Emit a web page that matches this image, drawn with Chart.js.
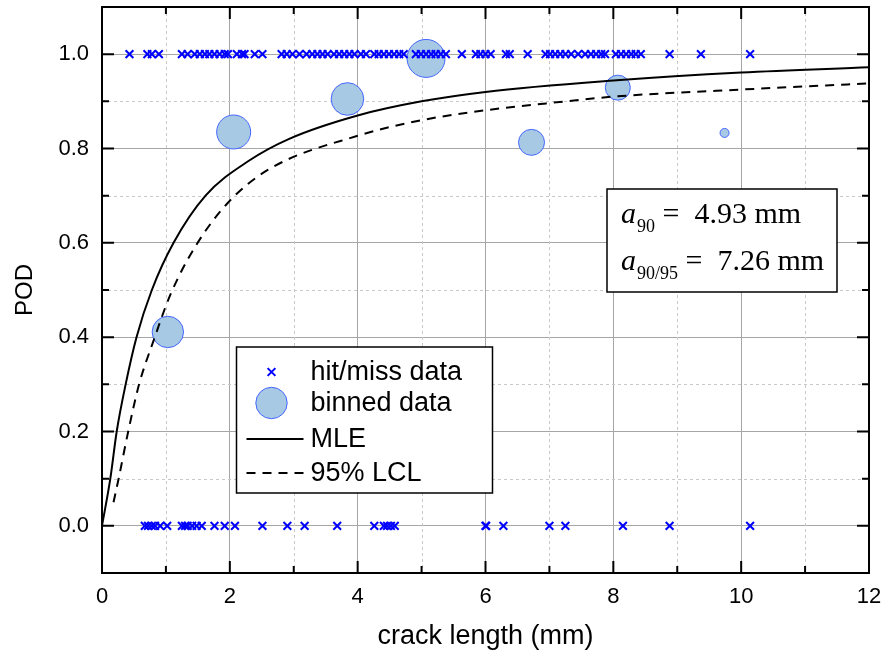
<!DOCTYPE html>
<html>
<head>
<meta charset="utf-8">
<script src="https://cdn.jsdelivr.net/npm/chart.js@4.4.1/dist/chart.umd.min.js"></script>
<style>
  html, body { margin: 0; padding: 0; background: #ffffff; }
  #wrap { width: 889px; height: 663px; }
</style>
</head>
<body>
<div id="wrap"><canvas id="c" width="889" height="663"></canvas></div>
<script>
// ---------------- data ----------------
// hit/miss data: crack lengths (mm) of detected cracks (POD = 1)
const hitX = [0.43, 0.71, 0.78, 0.89, 1.25, 1.34, 1.45, 1.53, 1.61, 1.68, 1.76, 1.84, 1.92, 1.97,
  2.11, 2.19, 2.23, 2.39, 2.51, 2.81, 2.89, 2.98, 3.09, 3.20, 3.29, 3.37, 3.45, 3.53,
  3.63, 3.71, 3.79, 3.87, 3.95, 4.05, 4.13, 4.26, 4.33, 4.41, 4.49, 4.57, 4.65, 4.72,
  4.91, 4.99, 5.07, 5.15, 5.22, 5.30, 5.38, 5.63, 5.85, 5.92, 6.00, 6.08, 6.32, 6.38,
  6.66, 6.94, 7.01, 7.09, 7.17, 7.25, 7.34, 7.45, 7.56, 7.65, 7.73, 7.81, 7.87,
  8.04, 8.12, 8.20, 8.28, 8.35, 8.43, 8.88, 9.37, 10.14];
// crack lengths (mm) of missed cracks (POD = 0)
const missX = [0.67, 0.72, 0.78, 0.83, 0.91, 1.02, 1.25, 1.30, 1.34, 1.41, 1.48, 1.56,
  1.76, 1.92, 2.08, 2.51, 2.90, 3.17, 3.68, 4.26, 4.41, 4.46, 4.52, 4.58,
  6.00, 6.01, 6.28, 7.00, 7.25, 8.15, 8.88, 10.14];
const hitValue = 1.0;
const missValue = 0.0;

// binned data
const binX   = [1.03, 2.06, 3.84, 5.07, 6.72, 8.07, 9.74];
const binPOD = [0.411, 0.835, 0.905, 0.991, 0.813, 0.929, 0.833];
const binSize = [15.7, 17, 16.3, 19, 13, 12.5, 4.5];   // bubble radius (bin weight)

// MLE curve
const mleX   = [0, 0.13, 0.23, 0.37, 0.54, 0.78, 1.12, 1.62, 2.31, 2.92, 4.0, 5.0, 6.0, 8.0, 10.0, 12.0];
const mlePOD = [0, 0.10, 0.20, 0.30, 0.40, 0.50, 0.60, 0.70, 0.775, 0.82, 0.87, 0.90, 0.92, 0.944, 0.961, 0.972];

// 95% lower confidence limit
const lclX   = [0.18, 0.26, 0.41, 0.58, 0.80, 1.07, 1.45, 1.97, 2.60, 4.0, 5.0, 6.0, 7.26, 8.0, 10.0, 12.0];
const lclPOD = [0.05, 0.10, 0.20, 0.30, 0.39, 0.49, 0.59, 0.685, 0.755, 0.827, 0.86, 0.881, 0.90, 0.91, 0.925, 0.938];

// axes / ticks
const xMin = 0, xMax = 12, yMin = -0.1, yMax = 1.1;
const xMajor = [0, 2, 4, 6, 8, 10, 12];
const xMinor = [1, 3, 5, 7, 9, 11];
const yMajor = [0.0, 0.2, 0.4, 0.6, 0.8, 1.0];
const yMinor = [0.1, 0.3, 0.5, 0.7, 0.9];

// texts
const xTitle = 'crack length (mm)';
const yTitle = 'POD';
const labels = ['hit/miss data', 'binned data', 'MLE', '95% LCL'];
const noteRows = [
  { sub: '90', value: '4.93 mm' },
  { sub: '90/95', value: '7.26 mm' }
];

// ---------------- styles ----------------
const SANS = '"Liberation Sans", Arial, Helvetica, sans-serif';
const SERIF = '"Liberation Serif", "Times New Roman", Times, serif';
const BLUE = '#0000ff';
const BUB_FILL = '#a8c9e4';
const BUB_EDGE = '#4466ff';

const pts = (xs, ys) => xs.map((x, i) => ({ x: x, y: Array.isArray(ys) ? ys[i] : ys }));

const hitMiss = pts(hitX, hitValue).concat(pts(missX, missValue));
const bubbles = binX.map((x, i) => ({ x: x, y: binPOD[i], r: binSize[i] }));

// ---------------- custom drawing ----------------
function drawCross(ctx, x, y, r) {
  const o = r * Math.SQRT1_2;
  ctx.beginPath();
  ctx.moveTo(x - o, y - o); ctx.lineTo(x + o, y + o);
  ctx.moveTo(x - o, y + o); ctx.lineTo(x + o, y - o);
  ctx.stroke();
}

const framePlugin = {
  id: 'frame',
  beforeDatasetsDraw(chart) {
    const { ctx, chartArea: ca, scales: { x, y } } = chart;
    ctx.save();
    ctx.strokeStyle = '#c9c9c9';
    ctx.lineWidth = 1;
    ctx.setLineDash([3, 3]);
    xMinor.forEach(v => {
      const px = Math.round(x.getPixelForValue(v)) + 0.5;
      ctx.beginPath(); ctx.moveTo(px, ca.top); ctx.lineTo(px, ca.bottom); ctx.stroke();
    });
    yMinor.forEach(v => {
      const py = Math.round(y.getPixelForValue(v)) + 0.5;
      ctx.beginPath(); ctx.moveTo(ca.left, py); ctx.lineTo(ca.right, py); ctx.stroke();
    });
    ctx.restore();
  },
  afterDatasetsDraw(chart) {
    const { ctx, chartArea: ca, scales: { x, y } } = chart;
    ctx.save();
    // frame
    ctx.strokeStyle = '#000';
    ctx.lineWidth = 2;
    ctx.strokeRect(ca.left, ca.top, ca.right - ca.left, ca.bottom - ca.top);
    // inward ticks on all sides
    const tick = (vals, len, horiz) => {
      vals.forEach(v => {
        ctx.beginPath();
        if (horiz) {
          const px = x.getPixelForValue(v);
          ctx.moveTo(px, ca.bottom); ctx.lineTo(px, ca.bottom - len);
          ctx.moveTo(px, ca.top); ctx.lineTo(px, ca.top + len);
        } else {
          const py = y.getPixelForValue(v);
          ctx.moveTo(ca.left, py); ctx.lineTo(ca.left + len, py);
          ctx.moveTo(ca.right, py); ctx.lineTo(ca.right - len, py);
        }
        ctx.stroke();
      });
    };
    tick(xMajor, 12, true); tick(xMinor, 7, true);
    tick(yMajor, 12, false); tick(yMinor, 7, false);

    // legend box
    const ds = chart.data.datasets;
    const L = { x: ca.left + 134.5, y: ca.top + 340, w: 256, h: 146 };
    ctx.fillStyle = '#fff';
    ctx.fillRect(L.x, L.y, L.w, L.h);
    ctx.lineWidth = 1.5;
    ctx.strokeStyle = '#000';
    ctx.strokeRect(L.x, L.y, L.w, L.h);
    const rowY = [25, 56, 92, 126].map(d => L.y + d);
    const symX = L.x + 35;
    // hit/miss symbol
    ctx.strokeStyle = BLUE; ctx.lineWidth = 2;
    drawCross(ctx, symX, rowY[0], 5.5);
    // binned symbol
    ctx.beginPath(); ctx.arc(symX, rowY[1], 15.7, 0, Math.PI * 2);
    ctx.fillStyle = BUB_FILL; ctx.fill();
    ctx.lineWidth = 1; ctx.strokeStyle = BUB_EDGE; ctx.stroke();
    // MLE
    ctx.strokeStyle = '#000'; ctx.lineWidth = 2;
    ctx.beginPath(); ctx.moveTo(L.x + 10, rowY[2]); ctx.lineTo(L.x + 67, rowY[2]); ctx.stroke();
    // LCL
    ctx.setLineDash([9, 7]);
    ctx.beginPath(); ctx.moveTo(L.x + 10, rowY[3]); ctx.lineTo(L.x + 67, rowY[3]); ctx.stroke();
    ctx.setLineDash([]);
    ctx.fillStyle = '#000';
    ctx.font = '27px ' + SANS;
    ctx.textBaseline = 'middle';
    ctx.textAlign = 'left';
    const legendOrder = [1, 0, 2, 3];
    legendOrder.forEach((di, i) => ctx.fillText(ds[di].label, L.x + 74, rowY[i] + 1));

    // annotation box
    const N = { x: ca.left + 505, y: ca.top + 182, w: 230, h: 103 };
    ctx.fillStyle = '#fff';
    ctx.fillRect(N.x, N.y, N.w, N.h);
    ctx.lineWidth = 1.5; ctx.strokeStyle = '#000';
    ctx.strokeRect(N.x, N.y, N.w, N.h);
    ctx.fillStyle = '#000';
    ctx.textBaseline = 'alphabetic';
    const base = [N.y + 34, N.y + 81];
    noteRows.forEach((r, i) => {
      let cx = N.x + 14;
      ctx.font = 'italic 30px ' + SERIF;
      ctx.fillText('a', cx, base[i]);
      cx += ctx.measureText('a').width + 1;
      ctx.font = '18px ' + SERIF;
      ctx.fillText(r.sub, cx, base[i] + 9);
      cx += ctx.measureText(r.sub).width;
      ctx.font = '30px ' + SERIF;
      ctx.fillText(' =  ' + r.value, cx, base[i]);
    });
    ctx.restore();
  }
};

// ---------------- chart ----------------
new Chart(document.getElementById('c'), {
  type: 'scatter',
  data: {
    datasets: [
      {
        type: 'bubble',
        label: labels[1],
        data: bubbles,
        backgroundColor: BUB_FILL,
        borderColor: BUB_EDGE,
        borderWidth: 1,
        order: 4
      },
      {
        type: 'scatter',
        label: labels[0],
        data: hitMiss,
        pointStyle: 'crossRot',
        pointRadius: 5.5,
        borderColor: BLUE,
        backgroundColor: BLUE,
        pointBorderWidth: 2,
        order: 3
      },
      {
        type: 'scatter',
        label: labels[2],
        data: pts(mleX, mlePOD),
        showLine: true,
        borderColor: '#000',
        borderWidth: 2,
        pointRadius: 0,
        cubicInterpolationMode: 'monotone',
        order: 1
      },
      {
        type: 'scatter',
        label: labels[3],
        data: pts(lclX, lclPOD),
        showLine: true,
        borderColor: '#000',
        borderWidth: 2,
        borderDash: [9, 7],
        pointRadius: 0,
        cubicInterpolationMode: 'monotone',
        order: 2
      }
    ]
  },
  options: {
    responsive: false,
    animation: false,
    devicePixelRatio: 1,
    layout: { autoPadding: false, padding: { top: 7, right: 20, left: 0, bottom: 0 } },
    plugins: {
      legend: { display: false },
      tooltip: { enabled: false }
    },
    scales: {
      x: {
        type: 'linear',
        min: xMin, max: xMax,
        afterBuildTicks: s => { s.ticks = xMajor.map(v => ({ value: v })); },
        afterFit: s => { s.height = 90; s.paddingLeft = 0; s.paddingRight = 0; },
        ticks: {
          color: '#000',
          font: { family: SANS, size: 22 },
          padding: 11,
          maxRotation: 0,
          autoSkip: false,
          callback: v => String(v)
        },
        grid: { color: '#a6a6a6', lineWidth: 1, drawTicks: false },
        border: { display: false },
        title: {
          display: true, text: xTitle, color: '#000',
          font: { family: SANS, size: 27 },
          padding: { top: 12, bottom: 10 }
        }
      },
      y: {
        type: 'linear',
        min: yMin, max: yMax,
        afterBuildTicks: s => { s.ticks = yMajor.map(v => ({ value: v })); },
        afterFit: s => { s.width = 102; s.paddingTop = 0; s.paddingBottom = 0; },
        ticks: {
          color: '#000',
          font: { family: SANS, size: 22 },
          padding: 13,
          autoSkip: false,
          callback: v => v.toFixed(1)
        },
        grid: { color: '#a6a6a6', lineWidth: 1, drawTicks: false },
        border: { display: false },
        title: {
          display: true, text: yTitle, color: '#000',
          font: { family: SANS, size: 24 },
          padding: { top: 11, bottom: 11 }
        }
      }
    }
  },
  plugins: [framePlugin]
});
</script>
</body>
</html>
